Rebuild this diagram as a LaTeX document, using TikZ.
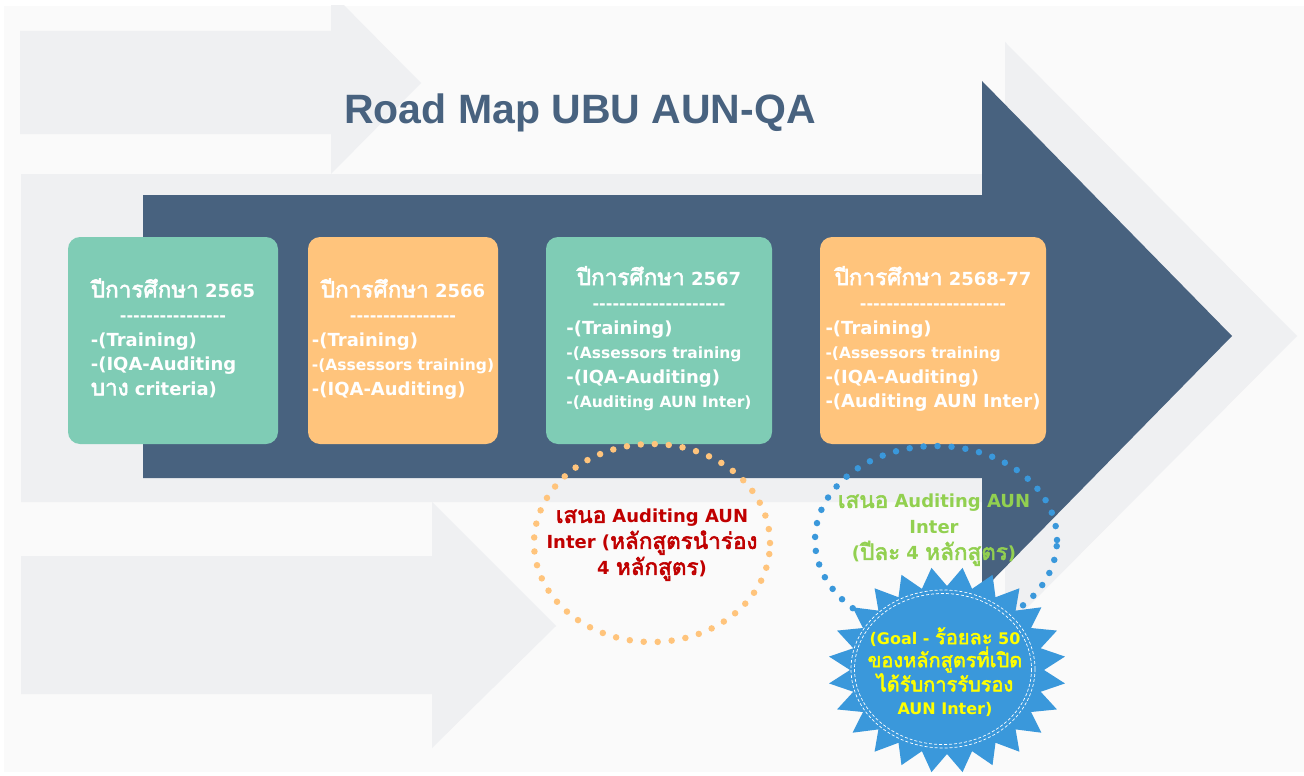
\documentclass[tikz,border=0pt]{standalone}
\usepackage{fontspec}
\setmainfont{DejaVu Sans}
\newfontfamily\thaifont[Script=Thai,Scale=1.25,AutoFakeBold=2.5]{Loma}
\newfontfamily\titlefont{Liberation Sans}
\usetikzlibrary{positioning,shapes.geometric}
\definecolor{colorBg}{HTML}{FAFAFA}
\definecolor{colorShade}{HTML}{EFF0F2}
\definecolor{colorNavy}{HTML}{48627F}
\definecolor{colorMint}{HTML}{7FCCB5}
\definecolor{colorPeach}{HTML}{FFC47C}
\definecolor{colorRed}{HTML}{C00000}
\definecolor{colorLime}{HTML}{92D050}
\definecolor{colorSky}{HTML}{3A98DB}
\definecolor{colorYellow}{HTML}{FFFF00}
\newcommand{\thaiw}[1]{{\thaifont #1}}
\newcommand{\smallsz}{\fontsize{15.5}{24.5}\selectfont}
\newcommand{\headrow}[1]{\multicolumn{1}{@{}c@{}}{\thaiw{ปีการศึกษา} #1}}
\newcommand{\dashrow}[1]{\multicolumn{1}{@{}c@{}}{\fontsize{16}{24.5}\selectfont\foreach\d in {1,...,#1}{-}}}

\begin{document}
\begin{tikzpicture}[x=1pt,y=-1pt,
    every node/.append style={align=center,inner sep=0pt,outer sep=0pt},
    yearbox/.style={rectangle,rounded corners=12pt,minimum height=207pt,text=white,font=\bfseries\fontsize{18}{24.5}\selectfont},
    dotring/.style={ellipse,line width=6.5pt,line cap=round,dash pattern=on 0pt off 14pt},
    note/.style={font=\bfseries\fontsize{18}{26}\selectfont},
  ]
  \useasboundingbox (0,0) rectangle (1304,776);
  % background and shaded arrows
  \fill[white] (0,0) rectangle (1304,776);
  \fill[colorBg] (4,6) rectangle (1304,772);
  \begin{scope}
    \clip (4,6) rectangle (1304,772);
    \fill[colorShade] (20,31) -- (331,31) -- (331,-8) -- (421,83) -- (331,174) -- (331,134) -- (20,134) -- cycle;
    \fill[colorShade] (21,174) -- (1005,174) -- (1005,42) -- (1297,336) -- (1005,630) -- (1005,502) -- (21,502) -- cycle;
    \fill[colorShade] (21,556) -- (432,556) -- (432,502) -- (556,626) -- (432,748) -- (432,694) -- (21,694) -- cycle;
  \end{scope}
  % main arrow
  \fill[colorNavy] (143,195) -- (982,195) -- (982,81) -- (1232,336) -- (982,591) -- (982,478) -- (143,478) -- cycle;

  \node[anchor=base,text=colorNavy,font=\titlefont\bfseries\fontsize{41}{41}\selectfont] (title) at (580,123) {Road Map UBU AUN-QA};

  % year boxes
  \node[yearbox,fill=colorMint,minimum width=210pt] (y2565) at (173,340.5) {\begin{tabular}{@{}l@{}}
      \headrow{2565}\\ \dashrow{16}\\
      -(Training)\\ -(IQA-Auditing\\ \thaiw{บาง} criteria)
    \end{tabular}};
  \node[yearbox,fill=colorPeach,minimum width=190pt,right=30pt of y2565] (y2566) {\begin{tabular}{@{}l@{}}
      \headrow{2566}\\ \dashrow{16}\\
      -(Training)\\ \smallsz -(Assessors training)\\ -(IQA-Auditing)
    \end{tabular}};
  \node[yearbox,fill=colorMint,minimum width=226pt,right=48pt of y2566] (y2567) {\begin{tabular}{@{}l@{}}
      \headrow{2567}\\ \dashrow{20}\\
      -(Training)\\ \smallsz -(Assessors training\\ -(IQA-Auditing)\\ \smallsz -(Auditing AUN Inter)
    \end{tabular}};
  \node[yearbox,fill=colorPeach,minimum width=226pt,right=48pt of y2567] (y2568) {\begin{tabular}{@{}l@{}}
      \headrow{2568-77}\\ \dashrow{22}\\
      -(Training)\\ \smallsz -(Assessors training\\ -(IQA-Auditing)\\ -(Auditing AUN Inter)
    \end{tabular}};

  % dotted rings
  \node[dotring,draw=colorPeach,minimum width=236pt,minimum height=198pt] (ring1) at (652,543) {};
  \node[note,text=colorRed] (pilot) at (652,545) {\thaiw{เสนอ} Auditing AUN\\ Inter (\thaiw{หลักสูตรนำร่อง}\\ 4 \thaiw{หลักสูตร})};
  \node[dotring,draw=colorSky,minimum width=242pt,minimum height=188pt] (ring2) at (936,540) {};
  \node[note,text=colorLime] (yearly) at (934,530) {\thaiw{เสนอ} Auditing AUN\\ Inter\\ (\thaiw{ปีละ} 4 \thaiw{หลักสูตร})};

  % goal burst
  \fill[colorSky,shift={(947,670)}] (82.5:119 and 103)
    \foreach \k in {0,...,23} { -- ({90+\k*15}:97 and 84) -- ({97.5+\k*15}:119 and 103) } -- cycle;
  \draw[white,line width=0.7pt,dash pattern=on 3pt off 2pt] (943,669) ellipse [x radius=92,y radius=79];
  \draw[white,line width=0.7pt,dash pattern=on 3pt off 2pt] (943,669) ellipse [x radius=88.5,y radius=75.5];
  \node[text=colorYellow,font=\bfseries\fontsize{16}{23}\selectfont] (goal) at (945,672) {(Goal - \thaiw{ร้อยละ} 50\\ \thaiw{ของหลักสูตรที่เปิด}\\ \thaiw{ได้รับการรับรอง}\\ AUN Inter)};
\end{tikzpicture}
\end{document}
